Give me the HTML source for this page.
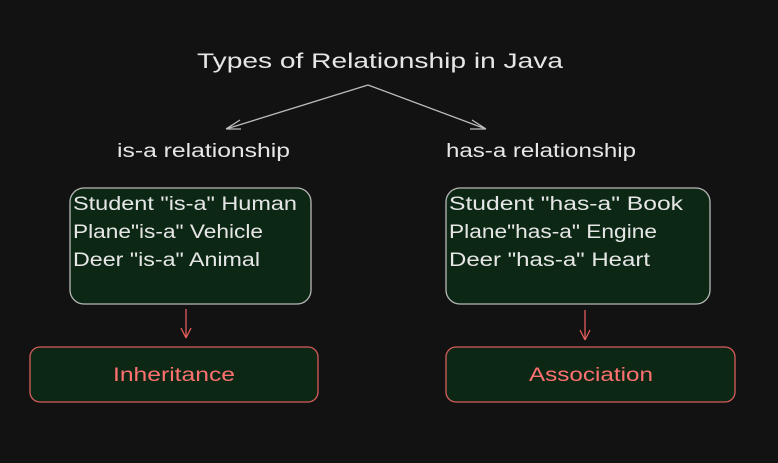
<!DOCTYPE html>
<html><head><meta charset="utf-8"><style>
html,body{margin:0;padding:0;background:#121212;}
svg{display:block}
text{font-family:"Liberation Sans",sans-serif;fill:#e6e6e6;}
</style></head><body>
<svg width="778" height="463" viewBox="0 0 778 463" xmlns="http://www.w3.org/2000/svg">
<rect width="778" height="463" fill="#121212"/>
<text x="197" y="68" font-size="21" textLength="366" lengthAdjust="spacingAndGlyphs">Types of Relationship in Java</text>
<g stroke="#bdbdbd" stroke-width="1.3" fill="none">
<path d="M368 85 L226 129 M226 129 L240 120 M226 129 L241 129"/>
<path d="M368 85 L486 129 M486 129 L472 120 M486 129 L470 129"/>
</g>
<text x="117" y="157" font-size="19" textLength="173" lengthAdjust="spacingAndGlyphs">is-a relationship</text>
<text x="446" y="157" font-size="19" textLength="190" lengthAdjust="spacingAndGlyphs">has-a relationship</text>
<rect x="70" y="188" width="241" height="116" rx="14" fill="#0c2815" stroke="#b8b8b8" stroke-width="1.3"/>
<text font-size="19">
<tspan x="73" y="210" textLength="224" lengthAdjust="spacingAndGlyphs">Student "is-a" Human</tspan>
<tspan x="73" y="238" textLength="190" lengthAdjust="spacingAndGlyphs">Plane"is-a" Vehicle</tspan>
<tspan x="73" y="266" textLength="187" lengthAdjust="spacingAndGlyphs">Deer "is-a" Animal</tspan>
</text>
<rect x="446" y="188" width="264" height="116" rx="14" fill="#0c2815" stroke="#b8b8b8" stroke-width="1.3"/>
<text font-size="19">
<tspan x="449" y="210" textLength="234" lengthAdjust="spacingAndGlyphs">Student "has-a" Book</tspan>
<tspan x="449" y="238" textLength="208" lengthAdjust="spacingAndGlyphs">Plane"has-a" Engine</tspan>
<tspan x="449" y="266" textLength="201" lengthAdjust="spacingAndGlyphs">Deer "has-a" Heart</tspan>
</text>
<g stroke="#e05c5c" stroke-width="1.3" fill="none">
<path d="M186 309 L186 338 M186 338 L181 328 M186 338 L191 328"/>
<path d="M585 310 L585 340 M585 340 L580 330 M585 340 L590 330"/>
</g>
<rect x="30" y="347" width="288" height="55" rx="10" fill="#0c2815" stroke="#d95c5c" stroke-width="1.3"/>
<rect x="446" y="347" width="289" height="55" rx="10" fill="#0c2815" stroke="#d95c5c" stroke-width="1.3"/>
<text x="113" y="381" font-size="19" style="fill:#ff7070" textLength="122" lengthAdjust="spacingAndGlyphs">Inheritance</text>
<text x="529" y="381" font-size="19" style="fill:#ff7070" textLength="124" lengthAdjust="spacingAndGlyphs">Association</text>
</svg>
</body></html>
